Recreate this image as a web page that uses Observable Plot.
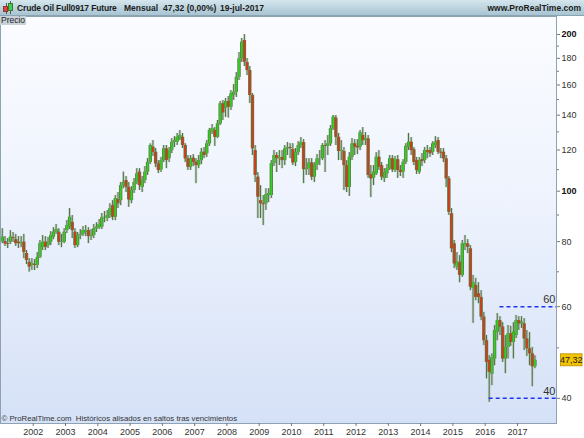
<!DOCTYPE html>
<html><head><meta charset="utf-8">
<script src="https://cdn.jsdelivr.net/npm/d3@7"></script>
<script src="https://cdn.jsdelivr.net/npm/@observablehq/plot@0.6"></script>
<style>
html,body{margin:0;padding:0;background:#fff;}
#wrap{position:relative;width:584px;height:438px;overflow:hidden;font-family:"Liberation Sans",Arial,sans-serif;}
#title{position:relative;height:16px;box-sizing:border-box;background:linear-gradient(#d5e6ee,#a8c4d2);border-bottom:1px solid #8ba4b1;font-size:8.5px;font-weight:bold;color:#1b1b1b;white-space:pre;}
#title span{position:absolute;top:3px;line-height:10px;}
#title span.t1{letter-spacing:-0.15px;}
.ic{position:absolute;box-sizing:border-box;}
#precio{position:absolute;left:0;top:16px;width:26px;height:9px;background:#c8d2d9;font-size:8.5px;line-height:9px;color:#1f1f1f;padding-left:1px;box-sizing:border-box;z-index:2;}
</style></head>
<body><div id="wrap">
<div id="title">
<div class="ic" style="left:6px;top:3px;width:1px;height:11px;background:#6b4b3b"></div>
<div class="ic" style="left:3px;top:6px;width:5px;height:6px;background:#e0443a;border:1px solid #8a3a30"></div>
<div class="ic" style="left:10px;top:1px;width:1px;height:13px;background:#3e6a3e"></div>
<div class="ic" style="left:8px;top:3px;width:5px;height:8px;background:#42d042;border:1px solid #3a7a3a"></div>
<span class="t1" style="left:17px">Crude Oil Full0917 Future</span>
<span style="left:124px">Mensual</span>
<span style="left:163px">47,32 (0,00%)</span>
<span style="left:220px">19-jul-2017</span>
<span style="right:3px">www.ProRealTime.com</span>
</div>
<div id="precio">Precio</div>
<div id="chart"></div>
</div>
<script>
// Monthly candles, Jan 2001 .. Jul 2017 (back-adjusted continuous crude oil future)
const firstYear = 2001;
const open = [
 80.0, 80.0, 79.3, 79.8, 81.5, 80.7, 79.8, 79.3, 79.8, 75.9, 73.0, 72.0,
 72.3, 72.0, 74.6, 78.0, 79.8, 78.6, 79.8, 81.6, 83.3, 83.4, 79.8, 79.8,
 84.0, 85.3, 87.1, 83.4, 78.6, 82.2, 82.6, 83.4, 84.0, 81.8, 82.2, 84.7,
 85.1, 85.3, 89.0, 88.6, 89.8, 93.8, 89.1, 96.3, 95.9, 102.5, 104.8, 101.7,
 95.9, 100.3, 104.0, 108.8, 101.7, 104.8, 108.8, 113.6, 121.5, 118.8, 112.8, 109.9,
 114.5, 120.6, 115.5, 119.7, 124.2, 124.2, 126.0, 126.9, 122.4, 115.4, 111.2, 115.7,
 113.6, 112.0, 114.5, 118.8, 118.0, 123.3, 130.2, 130.8, 126.9, 134.7, 147.2, 144.4,
 148.7, 145.0, 152.7, 154.9, 165.5, 179.6, 194.8, 176.7, 170.5, 152.7, 119.7, 106.4,
 95.9, 94.6, 94.6, 98.1, 98.1, 113.0, 117.1, 115.5, 116.1, 114.5, 120.6, 121.3,
 120.2, 113.5, 118.6, 122.4, 124.0, 110.0, 110.5, 113.3, 106.4, 112.3, 115.4, 115.5,
 122.4, 122.1, 123.3, 131.8, 138.1, 126.9, 119.2, 119.2, 112.0, 101.7, 116.2, 123.3,
 121.9, 121.5, 127.9, 125.1, 126.0, 107.5, 105.9, 108.0, 116.2, 112.0, 105.8, 108.0,
 110.4, 115.4, 109.6, 114.9, 109.6, 108.8, 113.6, 121.5, 124.2, 120.1, 114.5, 108.8,
 115.0, 114.5, 119.7, 119.7, 118.8, 122.4, 125.1, 118.8, 118.8, 115.4, 105.6, 90.5,
 79.2, 71.5, 73.0, 68.9, 78.6, 79.2, 77.5, 65.0, 65.9, 63.5, 62.5, 57.3,
 51.6, 47.3, 44.5, 47.6, 53.6, 56.4, 54.8, 47.6, 50.1, 53.2, 51.2, 52.8,
 56.4, 55.6, 55.6, 52.0, 49.8, 48.7, 46.0
];
const high = [
 84.7, 81.8, 81.1, 84.0, 83.3, 82.6, 81.8, 81.8, 82.6, 76.9, 74.2, 74.2,
 73.9, 76.2, 80.4, 82.2, 81.8, 81.5, 83.6, 85.1, 86.3, 84.7, 82.6, 84.7,
 87.8, 92.6, 89.8, 84.7, 83.3, 84.4, 85.5, 85.9, 85.1, 84.4, 86.3, 87.0,
 88.2, 90.6, 91.4, 91.8, 94.6, 95.9, 98.1, 99.4, 103.9, 108.8, 106.7, 103.9,
 102.0, 105.8, 110.5, 110.5, 106.7, 111.5, 115.5, 123.3, 125.1, 120.8, 114.5, 116.1,
 122.4, 122.4, 121.3, 126.2, 127.3, 129.1, 130.8, 129.1, 123.4, 117.1, 117.1, 117.6,
 115.5, 117.1, 120.8, 121.3, 125.1, 132.0, 134.3, 132.5, 136.7, 148.7, 149.4, 150.7,
 152.0, 156.1, 160.3, 169.0, 184.7, 196.5, 199.9, 179.9, 173.6, 154.0, 122.4, 108.6,
 102.5, 98.1, 101.1, 101.1, 114.5, 119.7, 118.6, 119.7, 119.7, 122.4, 124.0, 123.4,
 123.4, 120.8, 124.5, 126.8, 125.6, 115.5, 115.5, 115.5, 113.5, 117.6, 119.7, 123.4,
 125.1, 127.9, 133.7, 139.8, 139.8, 129.1, 125.1, 121.3, 114.5, 118.6, 126.2, 125.6,
 125.6, 130.8, 132.5, 129.6, 127.9, 112.0, 112.0, 118.6, 119.7, 113.5, 110.5, 112.5,
 117.1, 117.1, 116.6, 117.1, 112.0, 115.0, 123.4, 129.1, 126.8, 121.3, 116.1, 116.1,
 118.1, 121.3, 122.4, 121.3, 124.5, 127.3, 126.8, 120.8, 120.8, 117.1, 106.7, 92.6,
 80.4, 76.2, 75.2, 80.4, 82.2, 80.7, 78.6, 68.9, 68.0, 66.7, 64.4, 58.5,
 52.8, 48.3, 48.7, 55.2, 58.2, 57.4, 55.9, 52.8, 55.2, 55.0, 55.9, 57.7,
 57.4, 57.4, 56.9, 54.0, 53.5, 50.1, 48.3
];
const low = [
 79.3, 78.3, 77.6, 79.0, 79.7, 78.3, 77.6, 77.9, 74.2, 72.3, 69.9, 70.4,
 70.4, 71.0, 74.2, 76.9, 76.9, 77.6, 78.6, 80.7, 82.6, 78.6, 77.9, 79.3,
 82.9, 84.4, 81.1, 77.6, 77.9, 80.7, 81.8, 81.8, 79.3, 80.4, 81.1, 83.3,
 84.4, 84.4, 87.0, 87.4, 88.6, 87.8, 87.8, 92.6, 93.8, 101.1, 99.4, 93.1,
 94.6, 99.0, 102.9, 100.3, 99.4, 103.4, 107.2, 112.5, 116.6, 111.0, 108.1, 108.6,
 113.5, 110.5, 113.5, 118.1, 121.3, 122.4, 125.1, 120.8, 113.5, 109.6, 109.6, 111.5,
 103.4, 110.5, 112.5, 115.5, 116.1, 121.9, 128.5, 121.9, 126.2, 133.7, 136.7, 138.6,
 138.2, 142.9, 149.4, 151.4, 163.2, 176.7, 173.6, 166.8, 147.4, 117.1, 103.9, 88.6,
 88.6, 85.9, 91.8, 95.1, 96.8, 111.5, 108.6, 112.0, 110.5, 112.0, 117.1, 115.5,
 112.0, 111.5, 117.1, 120.8, 103.4, 107.2, 107.2, 104.8, 103.9, 109.6, 112.0, 114.5,
 108.6, 117.1, 121.9, 130.8, 122.4, 114.5, 114.5, 100.3, 99.4, 97.7, 114.5, 117.1,
 117.6, 119.7, 122.4, 122.4, 105.8, 97.2, 102.5, 107.2, 109.6, 104.8, 103.9, 105.8,
 109.6, 108.6, 108.6, 105.8, 106.7, 105.8, 112.5, 119.7, 117.1, 112.0, 107.7, 107.7,
 111.5, 113.0, 115.5, 116.1, 117.1, 120.8, 117.6, 115.5, 113.5, 101.6, 89.8, 76.2,
 71.0, 70.4, 66.7, 68.3, 76.9, 75.9, 64.4, 55.7, 61.6, 60.8, 56.4, 50.5,
 43.6, 39.3, 42.3, 46.2, 51.6, 52.8, 46.9, 44.6, 47.6, 50.3, 47.6, 52.1,
 54.0, 54.5, 49.4, 48.1, 46.2, 42.1, 45.6
];
const close = [
 81.6, 79.2, 79.0, 81.6, 81.1, 79.3, 79.3, 79.7, 76.3, 73.6, 71.5, 72.6,
 72.0, 74.6, 79.3, 79.8, 78.0, 79.8, 82.2, 83.4, 84.4, 79.8, 80.0, 83.4,
 85.9, 89.1, 84.0, 78.6, 82.2, 82.6, 84.0, 84.0, 81.8, 82.2, 84.7, 85.3,
 86.3, 89.0, 89.1, 89.8, 92.6, 89.1, 96.8, 94.6, 102.5, 104.0, 101.7, 96.2,
 100.3, 104.0, 108.0, 102.5, 104.8, 108.8, 113.6, 122.4, 118.8, 112.8, 109.6, 114.5,
 120.6, 114.5, 119.7, 124.2, 125.1, 126.9, 127.9, 122.4, 115.4, 111.2, 115.5, 113.6,
 112.0, 114.5, 118.8, 117.1, 123.3, 130.8, 131.9, 126.9, 134.7, 147.2, 141.4, 148.7,
 145.0, 153.8, 154.9, 165.5, 179.6, 193.3, 177.0, 170.5, 152.7, 120.6, 107.2, 97.4,
 94.6, 94.2, 98.5, 99.0, 113.0, 117.1, 115.5, 116.1, 114.5, 120.6, 121.3, 120.8,
 113.3, 118.6, 122.4, 124.0, 110.0, 110.5, 113.3, 106.4, 112.3, 115.4, 115.5, 122.4,
 122.0, 123.3, 131.8, 138.8, 126.9, 119.2, 119.7, 112.0, 101.7, 116.2, 123.3, 121.5,
 121.1, 129.5, 125.1, 126.0, 107.2, 105.6, 108.8, 116.2, 111.2, 106.4, 108.6, 110.4,
 115.4, 109.9, 115.0, 109.6, 108.6, 113.6, 121.9, 124.2, 119.7, 113.6, 109.6, 114.5,
 114.0, 119.7, 118.8, 118.0, 123.3, 124.2, 118.8, 118.3, 115.4, 105.6, 91.1, 77.5,
 72.5, 73.0, 68.9, 79.2, 79.2, 78.0, 65.4, 66.7, 62.5, 62.5, 57.3, 51.6,
 46.9, 44.9, 47.9, 54.0, 56.4, 54.8, 47.6, 50.1, 53.2, 51.2, 53.6, 56.4,
 55.6, 56.0, 52.0, 49.8, 48.7, 46.0, 47.32
];
const yearTicks = [2002,2003,2004,2005,2006,2007,2008,2009,2010,2011,2012,2013,2014,2015,2016,2017];
const priceTicks = [40,60,80,120,140,160,180];
const priceTicksBold = [100,200];
const priceMinorTicks = [50,70,90,110,130,150,170,190];
const levelValues = [60, 40];
const levelFrom = ["2016-06", "2016-02"];

// build table
const toYear = s => { const [y, m] = s.split("-").map(Number); return y + (m - 0.5) / 12; };
const candles = close.map((c, i) => ({
  t: firstYear + (i + 0.5) / 12,
  open: open[i], high: high[i], low: low[i], close: c
}));
const up = candles.filter(d => d.close >= d.open);
const down = candles.filter(d => d.close < d.open);
const xDomain = [2000.986, 2018.21];
const levels = levelValues.map((v, i) => ({value: v, from: toYear(levelFrom[i]), to: xDomain[1]}));
const last = candles[candles.length - 1];

const chart = Plot.plot({
  width: 584, height: 422,
  marginLeft: 0, marginRight: 28, marginTop: 0, marginBottom: 15,
  x: {type: "linear", domain: xDomain},
  y: {type: "log", domain: [35.78, 216.6]},
  style: {
    background: "linear-gradient(to bottom, #fbfcff 0%, #eef3fd 45%, #d5e1f7 100%) 0 0 / 556px 407px no-repeat, #ffffff",
    fontFamily: "'Liberation Sans', Arial, sans-serif",
    fontSize: "9px", color: "#2a2a2a", overflow: "visible"
  },
  marks: [
    // wicks
    Plot.ruleX(candles, {x: "t", y1: "low", y2: "high", stroke: "#a4b4a0", strokeWidth: 2.6, strokeOpacity: 0.5}),
    Plot.ruleX(candles, {x: "t", y1: "low", y2: "high", stroke: "#4d7242", strokeWidth: 1}),
    // bodies
    Plot.ruleX(candles, {x: "t", y1: "open", y2: "close", stroke: "#5a7c48", strokeWidth: 3.4}),
    Plot.ruleX(up, {x: "t", y1: "open", y2: "close", stroke: "#35cf22", strokeWidth: 1.8}),
    Plot.ruleX(down, {x: "t", y1: "open", y2: "close", stroke: "#d43a18", strokeWidth: 1.8}),
    // horizontal levels
    Plot.ruleY(levels, {y: "value", x1: "from", x2: "to", stroke: "#1d35f0", strokeWidth: 1.5, strokeDasharray: "4,3"}),
    Plot.text(levels, {y: "value", text: d => String(d.value), frameAnchor: "right", textAnchor: "end", dx: -1, dy: -7, fontSize: 11, fill: "#333"}),
    // frame
    Plot.frame({stroke: "#8ea3b2"}),
    // axes
    Plot.axisY(priceMinorTicks, {anchor: "right", tickSize: 2, tickFormat: () => "", stroke: "#777", label: null}),
    Plot.axisY(priceTicks, {anchor: "right", tickSize: 3, tickPadding: 2, tickFormat: d => String(d), stroke: "#777", fill: "#333", fontSize: 9, label: null}),
    Plot.axisY(priceTicksBold, {anchor: "right", tickSize: 3, tickPadding: 2, tickFormat: d => String(d), stroke: "#777", fill: "#111", fontSize: 9, fontWeight: "bold", label: null}),
    Plot.axisX(yearTicks, {anchor: "bottom", tickSize: 3, tickPadding: 2, tickFormat: d => String(d), stroke: "#777", fill: "#333", fontSize: 9, label: null}),
    // caption
    Plot.text(["\u00a9 ProRealTime.com  Hist\u00f3ricos alisados en saltos tras vencimientos"], {frameAnchor: "bottom-left", textAnchor: "start", lineAnchor: "bottom", dx: 1, dy: -3, fontSize: 7.8, fill: "#333"})
  ]
});

// price tag on the right axis, placed via scales
const ys = chart.scale("y").apply(last.close);
const xr = chart.scale("x").range[1];
const g = d3.select(chart).append("g");
g.append("rect").attr("x", xr + 4.5).attr("y", ys - 6).attr("width", 21.5).attr("height", 12)
  .attr("fill", "#f3c200").attr("stroke", "#b89000").attr("stroke-width", 0.8);
g.append("text").attr("x", xr + 15.3).attr("y", ys).attr("dy", "0.35em").attr("text-anchor", "middle")
  .attr("font-size", 9).attr("fill", "#222").text(last.close.toFixed(2).replace(".", ","));

document.getElementById("chart").append(chart);
</script>
</body></html>
